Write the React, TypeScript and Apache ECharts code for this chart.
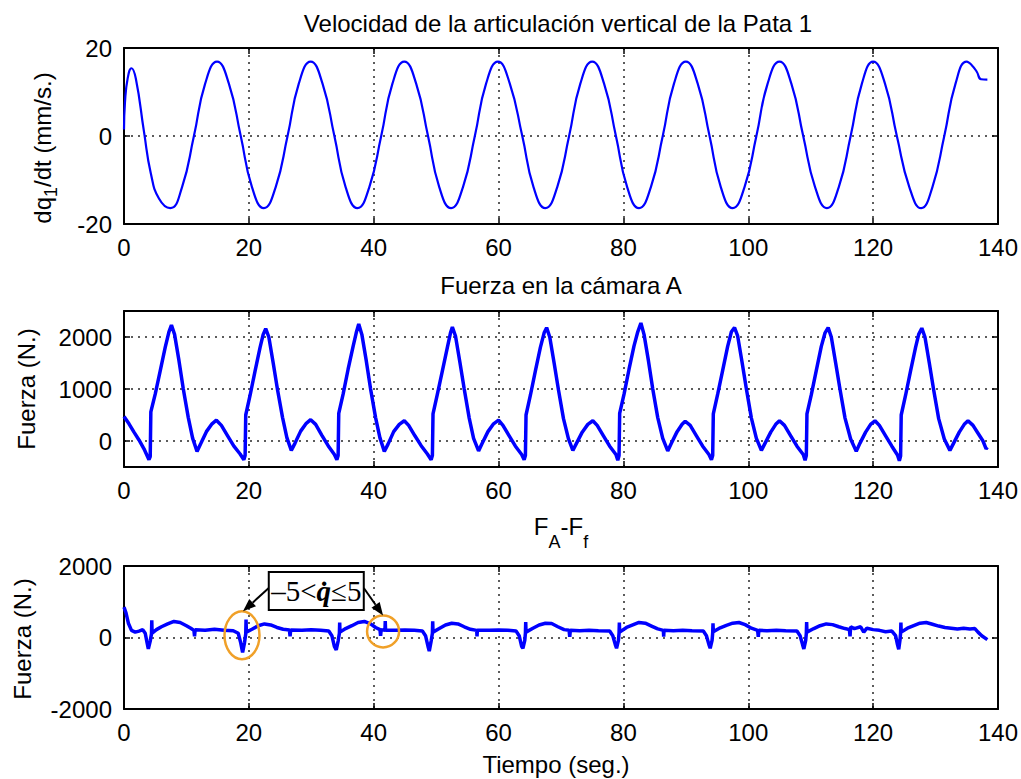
import React, { useEffect, useRef } from "react";
import * as echarts from "echarts";

const FONT = "'Liberation Sans', Arial, Helvetica, sans-serif";
const SERIF = "'Liberation Serif', 'Times New Roman', serif";
const BLUE = "#0000ff";
const ORANGE = "#f0a028";

// Shared time axis (seconds)
const timeMin = 0;
const timeMax = 140;
const timeStep = 20;

// Tick values of the three panels
const velocityTicks = [-20, 0, 20];
const forceATicks = [0, 1000, 2000];
const forceNetTicks = [-2000, 0, 2000];

// Panel texts
const velocityTitle = "Velocidad de la articulación vertical de la Pata 1";
const forceATitle = "Fuerza en la cámara A";
const timeLabel = "Tiempo (seg.)";
const forceLabel = "Fuerza (N.)";

// Joint velocity dq1/dt (mm/s) as [t, value]
const velocity: [number, number][] = [
  [0, 1.5], [0.15, 7.5], [0.6, 13.2], [1.2, 15.4], [1.9, 13.0], [3.2, 1.0], [4.3, -8.5], [5.6, -14.2], [7.4, -16.4],
  [9.3, -11.6], [11.2, 0], [13.0, 11.9], [14.9, 16.9], [16.8, 11.9], [18.7, 0], [20.5, -11.6], [22.4, -16.4],
  [24.3, -11.6], [26.2, 0], [28.0, 11.9], [29.9, 16.9], [31.8, 11.9], [33.7, 0], [35.5, -11.6], [37.4, -16.4],
  [39.3, -11.6], [41.2, 0], [43.0, 11.9], [44.9, 16.9], [46.8, 11.9], [48.7, 0], [50.5, -11.6], [52.4, -16.4],
  [54.3, -11.6], [56.2, 0], [58.0, 11.9], [59.9, 16.9], [61.8, 11.9], [63.8, 0], [65.6, -11.6], [67.5, -16.4],
  [69.4, -11.6], [71.3, 0], [73.1, 11.9], [75.0, 16.9], [76.9, 11.9], [78.8, 0], [80.6, -11.6], [82.5, -16.4],
  [84.4, -11.6], [86.3, 0], [88.1, 11.9], [90.0, 16.9], [91.9, 11.9], [93.8, 0], [95.6, -11.6], [97.5, -16.4],
  [99.4, -11.6], [101.3, 0], [103.1, 11.9], [105.0, 16.9], [106.9, 11.9], [108.8, 0], [110.7, -11.6], [112.6, -16.4],
  [114.5, -11.6], [116.4, 0], [118.2, 11.9], [120.0, 16.9], [121.9, 11.9], [123.8, 0], [125.8, -11.6], [127.7, -16.4],
  [129.5, -11.6], [131.4, 0], [133.2, 11.9], [135.0, 16.9], [135.8, 16.1], [136.6, 14.6], [137.3, 12.9], [138.3, 12.8],
];

// Force in chamber A (N) as [t, value]
const forceA: [number, number][] = [
  [0, 470], [0.8, 330], [1.6, 170], [2.4, 20], [3.2, -150], [4.0, -360], [4.2, -300], [4.3, 560], [5.0, 900],
  [5.8, 1350], [6.6, 1800], [7.2, 2100], [7.6, 2230], [8.1, 2050], [8.8, 1550], [9.5, 1000], [10.3, 450], [11.0, 50],
  [11.7, -200], [12.3, -50], [13.2, 180], [14.1, 330], [14.8, 400], [15.6, 300], [16.6, 100], [17.6, -100], [18.6, -250],
  [19.2, -360], [19.4, -280], [19.5, 500], [20.2, 880], [21.0, 1350], [21.8, 1800], [22.3, 2050], [22.7, 2160], [23.2, 2000],
  [23.9, 1500], [24.6, 980], [25.4, 450], [26.1, 60], [26.8, -180], [27.4, -40], [28.3, 190], [29.2, 340], [29.9, 410],
  [30.7, 320], [31.7, 110], [32.7, -90], [33.7, -260], [34.1, -360], [34.3, -280], [34.4, 530], [35.1, 900], [35.9, 1380],
  [36.7, 1820], [37.2, 2080], [37.6, 2250], [38.1, 2050], [38.8, 1550], [39.5, 1000], [40.3, 450], [41.0, 60], [41.7, -200],
  [42.3, -60], [43.2, 180], [44.1, 320], [44.9, 390], [45.6, 300], [46.6, 100], [47.6, -90], [48.6, -250], [49.2, -360],
  [49.4, -280], [49.5, 520], [50.2, 900], [51.0, 1350], [51.8, 1800], [52.3, 2080], [52.6, 2190], [53.1, 2020], [53.8, 1520],
  [54.5, 1000], [55.3, 440], [56.0, 50], [56.8, -190], [57.4, -40], [58.3, 180], [59.2, 330], [60.0, 400], [60.7, 300],
  [61.7, 100], [62.7, -100], [63.7, -260], [64.1, -360], [64.3, -280], [64.4, 500], [65.1, 880], [65.9, 1350], [66.7, 1800],
  [67.3, 2080], [67.7, 2180], [68.2, 2000], [68.9, 1500], [69.6, 980], [70.4, 430], [71.2, 40], [71.9, -180], [72.5, -40],
  [73.4, 170], [74.3, 320], [75.1, 390], [75.8, 300], [76.8, 100], [77.8, -100], [78.8, -260], [79.1, -370], [79.3, -280],
  [79.4, 530], [80.1, 900], [80.9, 1380], [81.7, 1830], [82.3, 2100], [82.8, 2270], [83.3, 2050], [84.0, 1550], [84.7, 1000],
  [85.5, 450], [86.3, 50], [87.1, -190], [87.7, -40], [88.6, 180], [89.4, 320], [89.9, 380], [90.7, 300], [91.7, 100],
  [92.7, -100], [93.7, -260], [94.1, -360], [94.3, -280], [94.4, 520], [95.1, 900], [95.9, 1360], [96.7, 1820], [97.3, 2100],
  [97.8, 2180], [98.3, 2020], [99.0, 1520], [99.7, 1000], [100.5, 440], [101.3, 50], [102.1, -180], [102.7, -40], [103.6, 170],
  [104.4, 320], [105.0, 390], [105.8, 300], [106.8, 100], [107.8, -100], [108.8, -260], [109.1, -370], [109.3, -280], [109.4, 520],
  [110.1, 890], [110.9, 1360], [111.7, 1820], [112.3, 2080], [112.8, 2180], [113.3, 2000], [114.0, 1500], [114.7, 990], [115.5, 440],
  [116.4, 40], [117.3, -200], [117.9, -40], [118.8, 170], [119.6, 320], [120.3, 390], [121.0, 300], [122.0, 100], [123.0, -100],
  [123.9, -270], [124.2, -380], [124.4, -290], [124.5, 500], [125.2, 880], [126.0, 1350], [126.8, 1800], [127.3, 2050], [127.8, 2170],
  [128.3, 2000], [129.0, 1500], [129.7, 980], [130.5, 430], [131.4, 40], [132.3, -180], [132.9, -40], [133.8, 170], [134.6, 320],
  [135.2, 390], [136.0, 300], [136.8, 150], [137.6, 0], [138.1, -150], [138.3, -120],
];

// Net force F_A - F_f (N) as [t, value]
const forceNet: [number, number][] = [
  [0, 850], [0.3, 700], [0.7, 400], [1.2, 200], [1.8, 150], [2.4, 180], [3.0, 220], [3.4, 120], [3.7, -150], [3.9, -320],
  [4.2, -100], [4.4, 100], [4.45, 480], [4.5, 120], [5.2, 220], [6.0, 300], [7.0, 380], [8.0, 450], [9.0, 420], [10.0, 330],
  [10.7, 260], [11.2, 200], [11.3, 30], [11.4, 220], [13.0, 200], [14.5, 230], [16.0, 200], [17.5, 190], [18.3, 120], [18.7, -150],
  [19.0, -420], [19.3, -150], [19.5, 100], [19.55, 500], [19.6, 150], [20.5, 230], [21.5, 330], [22.5, 380], [23.5, 350], [24.5, 280],
  [25.5, 230], [26.5, 210], [26.6, 30], [26.7, 210], [28.5, 200], [30.0, 220], [31.5, 200], [32.8, 180], [33.3, 50], [33.7, -250],
  [34.0, -350], [34.3, -100], [34.5, 120], [34.55, 420], [34.6, 150], [35.5, 250], [36.5, 330], [37.5, 420], [38.5, 450], [39.5, 380],
  [40.3, 280], [41.0, 220], [41.1, 50], [41.2, 220], [41.8, 200], [41.85, 460], [41.9, 200], [43.5, 200], [45.0, 210], [46.5, 200],
  [47.8, 180], [48.3, 50], [48.7, -250], [48.9, -380], [49.2, -100], [49.4, 120], [49.45, 450], [49.5, 150], [50.5, 250], [51.5, 350],
  [52.5, 400], [53.5, 380], [54.5, 300], [55.5, 230], [56.5, 200], [56.55, 30], [56.6, 200], [58.5, 200], [60.0, 210], [61.5, 200],
  [62.8, 180], [63.3, 50], [63.7, -250], [63.9, -300], [64.2, -80], [64.3, 120], [64.35, 430], [64.4, 150], [65.5, 260], [66.5, 350],
  [67.5, 400], [68.5, 390], [69.5, 300], [70.5, 220], [71.3, 200], [71.4, 20], [71.5, 200], [73.0, 190], [74.5, 200], [76.0, 190],
  [77.8, 180], [78.3, 50], [78.7, -200], [78.9, -300], [79.2, -80], [79.3, 120], [79.35, 420], [79.4, 150], [80.5, 280], [81.5, 350],
  [82.5, 420], [83.5, 400], [84.5, 320], [85.5, 240], [86.4, 200], [86.45, 20], [86.5, 200], [88.0, 190], [89.5, 200], [91.0, 190],
  [92.8, 180], [93.3, 50], [93.7, -200], [93.9, -300], [94.2, -80], [94.3, 120], [94.35, 400], [94.4, 160], [95.5, 270], [96.5, 340],
  [97.5, 400], [98.5, 420], [99.5, 360], [100.5, 260], [101.5, 200], [101.6, 20], [101.7, 200], [103.0, 190], [104.5, 200], [106.0, 190],
  [107.8, 180], [108.3, 50], [108.7, -200], [108.9, -320], [109.2, -80], [109.3, 120], [109.35, 430], [109.4, 150], [110.5, 250], [111.5, 330],
  [112.5, 380], [113.5, 360], [114.5, 300], [115.5, 250], [116.2, 220], [116.3, 30], [116.4, 300], [117.0, 250], [118.0, 300], [118.5, 150],
  [119.0, 260], [120.0, 220], [121.0, 200], [122.0, 160], [123.0, 180], [123.6, 50], [123.9, -200], [124.1, -330], [124.3, -80], [124.4, 120],
  [124.45, 420], [124.5, 150], [125.5, 260], [126.5, 330], [127.5, 400], [128.5, 420], [129.5, 370], [130.5, 320], [131.5, 280], [132.5, 260],
  [133.5, 240], [134.5, 260], [135.5, 240], [136.3, 250], [136.8, 150], [137.4, 50], [138.3, -60],
];

// Circled samples on the net-force panel, and where the note box sits
const circledSamples: [number, number][] = [[18.9, 60], [41.5, 170]];
const noteAnchor: [number, number] = [30.8, 1300];

type Panel = { top: number; height: number; min: number; max: number; interval?: number; ticks: number[] };

const panels: Panel[] = [
  { top: 48, height: 176, min: -20, max: 20, interval: 20, ticks: velocityTicks },
  { top: 311, height: 156, min: -500, max: 2500, ticks: forceATicks },
  { top: 566, height: 143, min: -2000, max: 2000, interval: 2000, ticks: forceNetTicks },
];

const frameLine = { color: "#000", width: 2 };
const tickLine = { color: "#000", width: 1.5 };
const gridLine = { color: "#000", width: 1.5, type: [2, 5] as number[], opacity: 0.85 };
const tickFont = { color: "#000", fontSize: 24, fontFamily: FONT, formatter: (v: number) => String(v) };

function timeAxis(gridIndex: number, position: "bottom" | "top", primary: boolean) {
  return {
    type: "value",
    gridIndex,
    position,
    min: timeMin,
    max: timeMax,
    interval: timeStep,
    axisLine: { show: true, onZero: false, lineStyle: frameLine },
    axisTick: { show: true, inside: true, length: 6, lineStyle: tickLine },
    axisLabel: { show: primary, margin: 11, ...tickFont },
    splitLine: { show: primary, lineStyle: gridLine },
  };
}

function levelAxis(gridIndex: number, position: "left" | "right", p: Panel, primary: boolean) {
  return {
    type: "value",
    gridIndex,
    position,
    min: p.min,
    max: p.max,
    ...(p.interval ? { interval: p.interval } : {}),
    axisLine: { show: true, onZero: false, lineStyle: frameLine },
    axisTick: { show: true, inside: true, length: 6, lineStyle: tickLine, customValues: p.ticks },
    axisLabel: { show: primary, margin: 12, customValues: p.ticks, ...tickFont },
    splitLine: { show: primary, lineStyle: gridLine },
  };
}

function arrowParts(from: number[], to: number[]) {
  const dx = to[0] - from[0];
  const dy = to[1] - from[1];
  const len = Math.hypot(dx, dy);
  const ux = dx / len;
  const uy = dy / len;
  const headLen = 13;
  const headHalf = 5;
  const bx = to[0] - ux * headLen;
  const by = to[1] - uy * headLen;
  return [
    {
      type: "line",
      shape: { x1: from[0], y1: from[1], x2: bx, y2: by },
      style: { stroke: "#000", lineWidth: 2 },
      z: 20,
    },
    {
      type: "polygon",
      shape: {
        points: [
          [to[0], to[1]],
          [bx - uy * headHalf, by + ux * headHalf],
          [bx + uy * headHalf, by - ux * headHalf],
        ],
      },
      style: { fill: "#000" },
      z: 20,
    },
  ];
}

export default function App() {
  const ref = useRef<HTMLDivElement>(null);

  useEffect(() => {
    if (!ref.current) return;
    const chart = echarts.init(ref.current, null, { renderer: "svg" });

    const grids = panels.map((p) => ({ left: 124, right: 23, top: p.top, height: p.height }));
    const xAxes: any[] = [];
    const yAxes: any[] = [];
    panels.forEach((p, i) => {
      xAxes.push(timeAxis(i, "bottom", true), timeAxis(i, "top", false));
      yAxes.push(levelAxis(i, "left", p, true), levelAxis(i, "right", p, false));
    });

    const lineSeries = (data: [number, number][], idx: number, width: number, smooth: boolean) => ({
      type: "line",
      data,
      xAxisIndex: idx * 2,
      yAxisIndex: idx * 2,
      showSymbol: false,
      smooth,
      lineStyle: { color: BLUE, width },
      itemStyle: { color: BLUE },
      z: 5,
    });

    const plain = { fontSize: 24, fontFamily: FONT, fill: "#000", align: "center", verticalAlign: "middle" };

    const texts: any[] = [
      { type: "text", x: 558, y: 23, style: { ...plain, text: velocityTitle } },
      { type: "text", x: 561, y: 285, style: { ...plain, text: forceATitle } },
      {
        type: "text", x: 561, y: 526,
        style: {
          text: "{m|F}{s|A}{m|-F}{s|f}",
          align: "center", verticalAlign: "middle",
          rich: {
            m: { fontSize: 24, fontFamily: FONT, fill: "#000", lineHeight: 50 },
            s: { fontSize: 18, fontFamily: FONT, fill: "#000", verticalAlign: "bottom", lineHeight: 14 },
          },
        },
      },
      { type: "text", x: 556, y: 764, style: { ...plain, text: timeLabel } },
      {
        type: "text", x: 42, y: 148, rotation: Math.PI / 2,
        style: {
          text: "{m|dq}{s|1}{m|/dt (mm/s.)}",
          align: "center", verticalAlign: "middle",
          rich: {
            m: { fontSize: 24, fontFamily: FONT, fill: "#000", lineHeight: 36 },
            s: { fontSize: 18, fontFamily: FONT, fill: "#000", verticalAlign: "bottom", lineHeight: 14 },
          },
        },
      },
      { type: "text", x: 26, y: 389, rotation: Math.PI / 2, style: { ...plain, text: forceLabel } },
      { type: "text", x: 22, y: 639, rotation: Math.PI / 2, style: { ...plain, text: forceLabel } },
    ];

    chart.setOption({
      animation: false,
      backgroundColor: "#fff",
      grid: grids,
      xAxis: xAxes,
      yAxis: yAxes,
      series: [
        lineSeries(velocity, 0, 2.2, true),
        lineSeries(forceA, 1, 3.5, false),
        lineSeries(forceNet, 2, 3.5, false),
      ],
      graphic: texts,
    });

    // Note with arrows pointing at the circled samples of the net-force panel
    const finder = { xAxisIndex: 4, yAxisIndex: 4 };
    const c1 = chart.convertToPixel(finder, circledSamples[0]) as number[];
    const c2 = chart.convertToPixel(finder, circledSamples[1]) as number[];
    const nc = chart.convertToPixel(finder, noteAnchor) as number[];
    const r1 = [17.5, 24];
    const r2 = [16, 16];
    const boxW = 95;
    const boxH = 38;
    const bx0 = nc[0] - boxW / 2;
    const by0 = nc[1] - boxH / 2;

    const note: any[] = [
      {
        type: "ellipse", shape: { cx: c1[0], cy: c1[1], rx: r1[0], ry: r1[1] },
        style: { stroke: ORANGE, fill: "none", lineWidth: 2.5 }, z: 20,
      },
      {
        type: "ellipse", shape: { cx: c2[0], cy: c2[1], rx: r2[0], ry: r2[1] },
        style: { stroke: ORANGE, fill: "none", lineWidth: 2.5 }, z: 20,
      },
      ...arrowParts([bx0, nc[1] - 3], [c1[0] + 1, c1[1] - r1[1]]),
      ...arrowParts([bx0 + boxW, nc[1] - 3], [c2[0], c2[1] - r2[1]]),
      {
        type: "rect", shape: { x: bx0, y: by0, width: boxW, height: boxH },
        style: { stroke: "#000", fill: "#fff", lineWidth: 2 }, z: 21,
      },
      {
        type: "text", x: nc[0], y: nc[1], z: 22,
        style: {
          text: "{n|–5<}{q|q̇}{n|≤5}",
          align: "center", verticalAlign: "middle",
          rich: {
            n: { fontSize: 29, fontFamily: SERIF, fill: "#000" },
            q: { fontSize: 29, fontFamily: SERIF, fontStyle: "italic", fontWeight: "bold", fill: "#000" },
          },
        },
      },
    ];

    chart.setOption({ graphic: [...texts, ...note] });

    return () => chart.dispose();
  }, []);

  return (
    <div
      ref={ref}
      style={{ position: "absolute", left: 0, top: 0, width: 1021, height: 779, background: "#fff" }}
    />
  );
}
